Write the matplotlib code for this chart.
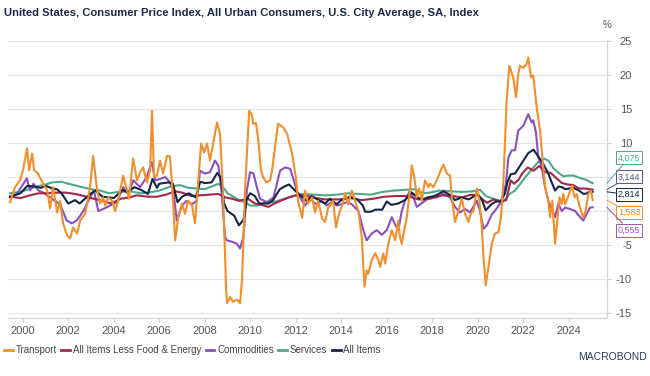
import matplotlib
matplotlib.use("Agg")
from matplotlib import pyplot as plt

plt.rcParams['font.family'] = ['Liberation Sans', 'DejaVu Sans']

# ---- data (year-on-year %) ----
transport_x = [1999.44, 1999.66, 1999.88, 2000.01, 2000.19, 2000.28, 2000.41, 2000.50, 2000.67, 2000.89,
               2001.07, 2001.20, 2001.33, 2001.51, 2001.64, 2001.77, 2001.95, 2002.08, 2002.21, 2002.39,
               2002.52, 2002.74, 2002.96, 2003.09, 2003.27, 2003.40, 2003.53, 2003.62, 2003.75, 2003.93,
               2004.06, 2004.19, 2004.41, 2004.59, 2004.67, 2004.85, 2005.02, 2005.16, 2005.29, 2005.46,
               2005.60, 2005.68, 2005.77, 2005.90, 2006.03, 2006.17, 2006.34, 2006.47, 2006.56, 2006.70,
               2006.83, 2007.00, 2007.13, 2007.27, 2007.44, 2007.57, 2007.66, 2007.84, 2007.97, 2008.10,
               2008.23, 2008.37, 2008.54, 2008.67, 2008.80, 2008.94, 2008.98, 2009.11, 2009.24, 2009.42,
               2009.55, 2009.64, 2009.77, 2009.95, 2010.08, 2010.12, 2010.25, 2010.34, 2010.47, 2010.56,
               2010.70, 2010.87, 2010.96, 2011.22, 2011.44, 2011.62, 2011.84, 2012.01, 2012.10, 2012.28,
               2012.41, 2012.54, 2012.72, 2012.85, 2012.98, 2013.16, 2013.29, 2013.42, 2013.64, 2013.77,
               2013.90, 2014.08, 2014.17, 2014.31, 2014.46, 2014.61, 2014.75, 2014.90, 2015.02, 2015.12,
               2015.19, 2015.34, 2015.49, 2015.63, 2015.71, 2015.85, 2015.93, 2016.07, 2016.22, 2016.37,
               2016.51, 2016.58, 2016.66, 2016.77, 2016.88, 2017.02, 2017.10, 2017.21, 2017.32, 2017.42,
               2017.54, 2017.68, 2017.83, 2017.90, 2018.05, 2018.20, 2018.34, 2018.49, 2018.64, 2018.78,
               2018.86, 2019.00, 2019.15, 2019.30, 2019.44, 2019.59, 2019.69, 2019.81, 2019.96, 2020.07,
               2020.18, 2020.25, 2020.35, 2020.47, 2020.62, 2020.76, 2020.91, 2021.02, 2021.13, 2021.20,
               2021.27, 2021.39, 2021.56, 2021.68, 2021.78, 2021.86, 2022.00, 2022.15, 2022.22, 2022.34,
               2022.44, 2022.59, 2022.74, 2022.81, 2022.96, 2023.10, 2023.18, 2023.28, 2023.40, 2023.52,
               2023.59, 2023.69, 2023.76, 2023.84, 2023.96, 2024.06, 2024.16, 2024.25, 2024.35, 2024.45,
               2024.54, 2024.64, 2024.75, 2024.86, 2024.98, 2025.05]
transport_y = [1.3, 3.5, 4.5, 6.0, 9.2, 6.0, 8.4, 6.0, 5.5, 4.0,
               3.0, 0.4, 3.5, -0.2, 1.5, -1.8, -3.6, -4.0, -2.4, -3.3,
               -1.4, -0.4, 3.5, 8.1, 3.0, 1.1, 2.0, 0.8, 2.0, 1.5,
               0.0, 1.5, 5.2, 3.0, 1.8, 7.7, 4.5, 5.7, 6.4, 4.2,
               6.0, 14.7, 5.0, 5.2, 7.4, 5.5, 8.1, 8.0, 4.0, -4.3,
               -1.0, 1.1, -0.4, 1.5, 0.8, -1.8, 2.0, 9.9, 8.6, 9.9,
               7.4, 9.9, 13.0, 11.3, 3.0, -11.6, -13.5, -12.6, -13.3, -13.0,
               -13.5, -10.0, 3.0, 14.7, 14.0, 12.8, 12.9, 10.8, 6.0, 5.0,
               4.2, 4.5, 6.0, 12.8, 12.3, 11.3, 8.4, 4.8, 1.5, -1.0,
               3.0, 1.1, 2.0, -0.2, 1.5, -1.1, -1.6, 0.4, 1.5, -2.4,
               -0.4, 1.3, 2.6, 1.0, 3.0, 1.5, 0.0, -3.8, -11.1, -8.7,
               -9.2, -7.2, -6.2, -7.2, -8.2, -6.2, -7.7, -4.8, -2.8, -4.3,
               -1.4, -3.8, -4.8, -2.8, -0.9, 3.0, 6.7, 5.0, 2.0, 3.3,
               1.5, 4.5, 3.5, 4.0, 3.5, 4.5, 5.7, 6.8, 5.5, 5.2,
               2.0, -1.6, 0.0, 1.8, -0.4, -1.6, -0.4, 0.0, 3.3, 1.6,
               -2.4, -6.7, -10.9, -8.2, -4.7, -3.3, -3.1, -0.9, 4.5, 10.3,
               16.2, 21.3, 19.6, 16.7, 20.1, 21.3, 21.0, 21.6, 22.5, 19.6,
               19.9, 15.2, 11.8, 8.9, 3.5, 1.5, -0.9, 1.5, -4.8, -0.4,
               2.0, 1.0, 2.5, 1.0, 2.0, 3.0, 3.7, 2.0, 2.5, 1.0,
               0.0, -1.0, 0.2, 2.5, 3.0, 1.583]

core_x = [1999.44, 1999.9, 2000.3, 2000.7, 2001.0, 2001.5, 2001.9, 2002.3, 2002.7, 2003.0,
          2003.5, 2003.9, 2004.3, 2004.7, 2005.0, 2005.5, 2005.9, 2006.3, 2006.7, 2007.0,
          2007.4, 2007.8, 2008.2, 2008.6, 2008.9, 2009.2, 2009.5, 2009.9, 2010.2, 2010.5,
          2010.8, 2011.0, 2011.4, 2011.7, 2012.0, 2012.4, 2012.9, 2013.3, 2013.9, 2014.4,
          2014.9, 2015.4, 2015.9, 2016.4, 2016.9, 2017.4, 2017.9, 2018.4, 2018.9, 2019.3,
          2019.7, 2020.0, 2020.4, 2020.7, 2021.0, 2021.25, 2021.35, 2021.45, 2021.6, 2021.8,
          2021.95, 2022.2, 2022.45, 2022.7, 2022.95, 2023.2, 2023.5, 2023.7, 2023.95, 2024.2,
          2024.45, 2024.7, 2024.95, 2025.05]
core_y = [2.1, 1.9, 2.3, 2.6, 2.6, 2.7, 2.7, 2.5, 2.2, 1.9,
          1.5, 1.1, 1.8, 2.0, 2.3, 2.1, 2.1, 2.4, 2.9, 2.7,
          2.2, 2.3, 2.4, 2.5, 2.0, 1.8, 1.5, 1.8, 1.1, 0.9,
          0.6, 1.0, 1.6, 2.0, 2.3, 2.3, 1.9, 1.7, 1.7, 1.9,
          1.6, 1.8, 2.1, 2.2, 2.2, 1.7, 1.8, 2.3, 2.2, 2.0,
          2.4, 2.3, 1.2, 1.7, 1.4, 1.6, 3.0, 4.5, 4.0, 4.6,
          5.5, 6.4, 5.9, 6.6, 5.7, 5.6, 4.7, 4.1, 3.9, 3.8,
          3.3, 3.3, 3.2, 3.144]

commodities_x = [1999.44, 1999.74, 2000.18, 2000.32, 2000.47, 2000.69, 2000.91, 2001.20, 2001.42, 2001.64,
                 2001.93, 2002.15, 2002.37, 2002.66, 2002.96, 2003.13, 2003.32, 2003.54, 2003.84, 2004.13,
                 2004.42, 2004.64, 2004.86, 2005.16, 2005.45, 2005.67, 2005.82, 2006.04, 2006.26, 2006.47,
                 2006.62, 2006.77, 2006.99, 2007.21, 2007.43, 2007.65, 2007.79, 2008.01, 2008.23, 2008.45,
                 2008.60, 2008.75, 2008.89, 2008.97, 2009.19, 2009.41, 2009.55, 2009.70, 2009.85, 2009.99,
                 2010.14, 2010.29, 2010.43, 2010.73, 2011.02, 2011.31, 2011.53, 2011.75, 2011.89, 2012.04,
                 2012.19, 2012.41, 2012.63, 2012.77, 2012.92, 2013.14, 2013.36, 2013.58, 2013.80, 2014.02,
                 2014.24, 2014.46, 2014.75, 2014.97, 2015.12, 2015.34, 2015.56, 2015.78, 2016.00, 2016.22,
                 2016.37, 2016.51, 2016.66, 2016.80, 2017.02, 2017.17, 2017.32, 2017.47, 2017.68, 2017.90,
                 2018.20, 2018.49, 2018.78, 2019.00, 2019.22, 2019.44, 2019.66, 2019.96, 2020.10, 2020.25,
                 2020.40, 2020.62, 2020.84, 2021.05, 2021.24, 2021.35, 2021.49, 2021.64, 2021.78, 2022.00,
                 2022.22, 2022.37, 2022.44, 2022.56, 2022.66, 2022.81, 2022.96, 2023.10, 2023.28, 2023.40,
                 2023.54, 2023.69, 2023.84, 2024.06, 2024.28, 2024.50, 2024.64, 2024.79, 2024.93, 2025.05]
commodities_y = [2.0, 2.5, 4.8, 3.0, 4.0, 3.0, 2.7, 2.0, 1.5, 1.0,
                 -1.4, -1.8, -1.4, 0.0, 2.0, 3.0, 0.0, 0.3, 0.8, 1.3,
                 3.5, 2.5, 4.5, 3.5, 5.0, 7.2, 4.5, 4.7, 5.0, 4.2,
                 3.0, -1.4, 0.8, 1.5, 1.0, 1.5, 5.9, 5.5, 5.7, 7.4,
                 6.6, 2.5, -3.8, -4.3, -4.5, -4.8, -5.5, -3.8, 3.0, 5.7,
                 5.5, 3.5, 1.8, 1.3, 2.0, 5.9, 6.4, 6.2, 4.8, 3.0,
                 2.0, 0.8, 2.0, 1.3, 1.0, 1.5, 0.8, 1.3, 0.8, 1.0,
                 1.3, 1.0, 0.0, -2.8, -4.3, -3.3, -2.8, -3.5, -2.8, -0.9,
                 -2.0, -2.8, 0.0, 1.5, 3.0, 2.0, 0.6, 1.0, 1.5, 2.0,
                 2.0, 2.5, 2.0, 0.6, -0.2, 0.3, -0.2, 1.5, 0.0, -2.6,
                 -2.1, -0.5, 0.4, 1.5, 4.0, 7.9, 8.9, 8.9, 11.8, 12.5,
                 14.2, 13.0, 13.3, 11.5, 7.9, 6.5, 3.5, 1.5, 0.0, -0.9,
                 1.1, 0.0, 0.5, 0.3, 0.0, -0.9, -1.4, -0.4, 0.5, 0.555]

services_x = [1999.44, 2000.0, 2000.5, 2001.0, 2001.3, 2001.7, 2002.0, 2002.5, 2003.0, 2003.4,
              2003.8, 2004.2, 2004.7, 2005.2, 2005.7, 2006.0, 2006.5, 2006.9, 2007.3, 2007.7,
              2008.0, 2008.6, 2008.8, 2009.0, 2009.4, 2009.8, 2010.0, 2010.3, 2010.6, 2011.0,
              2011.5, 2011.9, 2012.3, 2012.8, 2013.3, 2013.8, 2014.3, 2014.8, 2015.3, 2015.8,
              2016.3, 2016.8, 2017.2, 2017.6, 2017.9, 2018.3, 2018.8, 2019.3, 2019.8, 2020.1,
              2020.35, 2020.6, 2020.9, 2021.1, 2021.4, 2021.64, 2022.1, 2022.45, 2022.66, 2022.9,
              2023.1, 2023.32, 2023.55, 2023.76, 2024.0, 2024.2, 2024.45, 2024.75, 2025.05]
services_y = [2.6, 2.9, 3.5, 3.9, 4.2, 4.3, 4.0, 3.6, 3.2, 3.0,
              2.6, 2.8, 2.9, 2.6, 2.8, 3.0, 3.6, 3.8, 3.4, 3.3,
              3.2, 4.0, 3.5, 2.6, 1.8, 1.2, 0.8, 0.8, 1.2, 1.3,
              1.8, 2.2, 2.5, 2.4, 2.3, 2.4, 2.6, 2.5, 2.4, 2.8,
              3.0, 3.1, 3.2, 2.6, 2.7, 3.0, 2.9, 2.8, 2.9, 3.1,
              2.2, 1.9, 1.6, 1.3, 2.5, 3.0, 5.0, 6.4, 7.2, 7.7,
              7.4, 6.3, 5.6, 5.1, 5.2, 5.2, 4.9, 4.6, 4.075]

allitems_x = [1999.44, 1999.9, 2000.2, 2000.5, 2000.8, 2001.0, 2001.3, 2001.5, 2001.7, 2001.9,
              2002.0, 2002.3, 2002.5, 2002.8, 2003.0, 2003.2, 2003.5, 2003.8, 2004.0, 2004.4,
              2004.6, 2004.9, 2005.2, 2005.5, 2005.7, 2005.9, 2006.0, 2006.4, 2006.6, 2006.8,
              2007.0, 2007.3, 2007.6, 2007.8, 2008.0, 2008.3, 2008.55, 2008.7, 2008.85, 2009.0,
              2009.3, 2009.5, 2009.7, 2009.85, 2010.0, 2010.2, 2010.4, 2010.6, 2010.8, 2011.0,
              2011.3, 2011.5, 2011.7, 2012.0, 2012.2, 2012.5, 2012.7, 2013.0, 2013.3, 2013.5,
              2013.8, 2014.0, 2014.4, 2014.7, 2014.95, 2015.05, 2015.3, 2015.5, 2015.8, 2016.0,
              2016.2, 2016.5, 2016.8, 2017.1, 2017.4, 2017.6, 2017.8, 2018.1, 2018.5, 2018.8,
              2019.0, 2019.3, 2019.6, 2019.9, 2020.0, 2020.2, 2020.35, 2020.6, 2020.8, 2021.0,
              2021.2, 2021.3, 2021.45, 2021.64, 2021.93, 2022.22, 2022.45, 2022.66, 2022.88, 2023.1,
              2023.25, 2023.4, 2023.55, 2023.7, 2023.85, 2024.0, 2024.2, 2024.45, 2024.65, 2024.8,
              2024.95, 2025.05]
allitems_y = [2.1, 2.6, 3.7, 3.6, 3.4, 3.7, 3.3, 3.2, 2.6, 1.6,
              1.1, 1.6, 1.1, 2.0, 2.6, 3.0, 2.1, 2.0, 1.9, 3.1,
              2.7, 3.5, 3.1, 2.5, 4.7, 3.4, 4.0, 4.2, 4.0, 1.3,
              2.1, 2.6, 2.0, 4.3, 4.1, 4.2, 5.6, 4.9, 1.1, 0.0,
              -0.7, -2.1, -1.3, 1.8, 2.6, 2.2, 1.1, 1.1, 1.1, 1.6,
              3.2, 3.6, 3.9, 2.9, 2.3, 1.4, 2.2, 1.6, 1.1, 1.8,
              1.0, 1.6, 2.1, 1.7, 0.8, -0.1, -0.1, 0.2, 0.2, 1.4,
              0.9, 1.1, 1.6, 2.7, 1.9, 1.7, 2.0, 2.2, 2.9, 2.3,
              1.6, 2.0, 1.7, 2.3, 2.5, 1.5, 0.1, 1.0, 1.4, 1.4,
              2.6, 4.2, 5.4, 5.5, 7.0, 8.5, 9.0, 8.0, 6.9, 5.5,
              4.2, 3.0, 3.6, 3.5, 3.2, 3.3, 3.4, 3.0, 2.5, 2.6,
              2.9, 2.814]

series_names = ["Transport", "All Items Less Food & Energy", "Commodities", "Services", "All Items"]
series_colors = ["#f28e2b", "#a3294a", "#8a4fc1", "#4ea98b", "#13264a"]
last_labels = ["1,583", "3,144", "0,555", "4,075", "2,814"]
tag_levels = [-0.2, 5.0, -2.8, 7.8, 2.4]   # where the value boxes sit
tag_text_colors = ["#f28e2b", "#55548e", "#9a56b0", "#4ea98b", "#13264a"]

year_ticks = list(range(2000, 2025, 2))
value_ticks = [25, 20, 15, 10, 5, 0, -5, -10, -15]
# 5 and 0 sit behind the value boxes in the original, so no text there
value_tick_labels = ["25", "20", "15", "10", "", "", "-5", "-10", "-15"]

# ---- figure ----
fig = plt.figure(figsize=(6.5, 3.76), dpi=100)
ax = fig.add_axes([0.0123, 0.154, 0.9215, 0.74])

xs = [transport_x, core_x, commodities_x, services_x, allitems_x]
ys = [transport_y, core_y, commodities_y, services_y, allitems_y]
zorders = [6, 4, 3, 2, 5]
for x, y, name, c, z in zip(xs, ys, series_names, series_colors, zorders):
    ax.plot(x, y, color=c, lw=1.5, label=name, zorder=z, solid_joinstyle='round')

ax.set_xlim(1999.35, 2025.68)
ax.set_ylim(-15.7, 25.1)
ax.set_xticks(year_ticks)
ax.set_yticks(value_ticks)
ax.set_yticklabels(value_tick_labels)
ax.yaxis.tick_right()
ax.grid(axis='y', color='#e4e4e4', lw=0.9)
ax.set_axisbelow(True)
for s in ['top', 'left']:
    ax.spines[s].set_visible(False)
for s in ['bottom', 'right']:
    ax.spines[s].set_color('#d6d6d6')
    ax.spines[s].set_linewidth(0.9)
ax.tick_params(axis='x', colors='#d0d0d0', labelcolor='#555555', labelsize=8, length=3, pad=3)
ax.tick_params(axis='y', colors='#d0d0d0', labelcolor='#555555', labelsize=8, length=3, pad=15)
for lab in ax.get_yticklabels():
    lab.set_horizontalalignment('right')

fig.text(0.934, 0.925, "%", fontsize=7, color='#555555', ha='center')

# value tags on the right
for v_last, lvl, txt, tc in zip([y[-1] for y in ys], tag_levels, last_labels, tag_text_colors):
    ax.annotate(txt, xy=(1.0, v_last), xycoords=('axes fraction', 'data'),
                xytext=(1.037, lvl), textcoords=('axes fraction', 'data'),
                ha='center', va='center', fontsize=6.5, color=tc, annotation_clip=False,
                bbox=dict(boxstyle='square,pad=0.22', fc='white', ec=tc, lw=0.7),
                arrowprops=dict(arrowstyle='-', color=tc, lw=0.7, shrinkA=0, shrinkB=0))

fig.text(0.006, 0.965, "United States, Consumer Price Index, All Urban Consumers, U.S. City Average, SA, Index",
         fontsize=8.1, fontweight='bold', color='#1c2847', va='center', ha='left')

leg = fig.legend(loc='center left', bbox_to_anchor=(0.0, 0.069), ncol=5, frameon=False,
                 fontsize=7, handlelength=0.9, handletextpad=0.3, columnspacing=0.45, borderaxespad=0)
for t in leg.get_texts():
    t.set_color('#444444')
for h in leg.get_lines():
    h.set_linewidth(2)

fig.text(0.995, 0.05, "MACROBOND", fontsize=7.5, color='#2b3a5c', ha='right', va='center')

plt.savefig("out.png", dpi=100)
